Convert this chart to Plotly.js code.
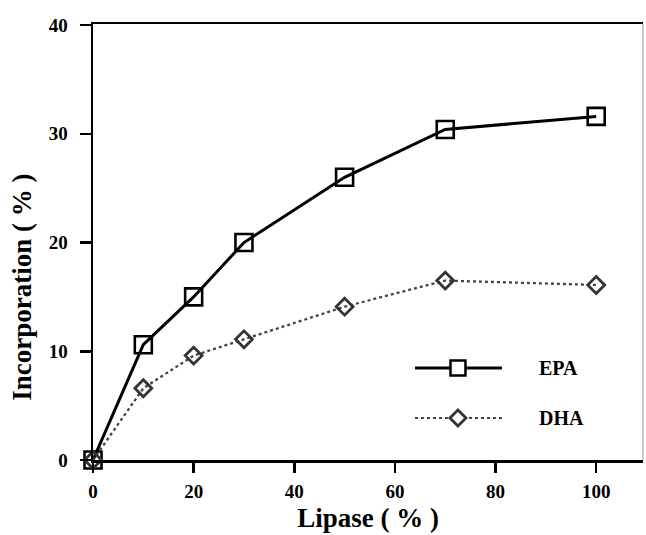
<!DOCTYPE html>
<html>
<head>
<meta charset="utf-8">
<script src="https://cdn.plot.ly/plotly-3.0.1.min.js"></script>
<style>html,body{margin:0;padding:0;background:#fff;}#chart{width:646px;height:535px;}</style>
</head>
<body>
<div id="chart"></div>
<script>
var lipase = [0, 10, 20, 30, 50, 70, 100];
var epa = [0, 10.6, 15.0, 20.0, 26.0, 30.4, 31.6];
var dha = [0, 6.6, 9.6, 11.1, 14.1, 16.5, 16.1];
var seriesNames = ["EPA", "DHA"];
var xTicks = [0, 20, 40, 60, 80, 100];
var yTicks = [0, 10, 20, 30, 40];
var xTitle = "Lipase ( % )";
var yTitle = "Incorporation ( % )";

var serif = "Liberation Serif, Times New Roman, serif";

var traces = [
  {
    x: lipase, y: epa, name: seriesNames[0], type: "scatter", mode: "lines+markers",
    line: {color: "#000", width: 3},
    marker: {symbol: "square-open", size: 17, color: "#000", line: {width: 2.6, color: "#000"}},
    cliponaxis: false
  },
  {
    x: lipase, y: dha, name: seriesNames[1], type: "scatter", mode: "lines+markers",
    line: {color: "#444", width: 2.3, dash: "dot"},
    marker: {symbol: "diamond-open", size: 13, color: "#333", line: {width: 2.8, color: "#333"}},
    cliponaxis: false
  }
];

// custom legend (drawn in paper coordinates, like the original figure's key)
var lgX0 = 0.5855, lgX1 = 0.7436, lgXm = 0.6636, lgTx = 0.8073;
var lgY = [0.211, 0.0963];
var sqHx = 0.0136, sqHy = 0.0172, dmHx = 0.0146, dmHy = 0.0184;

var shapes = [
  {type: "line", xref: "paper", yref: "paper", x0: 1, x1: 1, y0: 0, y1: 1,
   line: {color: "#999", width: 1}},
  {type: "line", xref: "paper", yref: "paper", x0: lgX0, x1: lgX1, y0: lgY[0], y1: lgY[0],
   line: {color: "#000", width: 3}},
  {type: "rect", xref: "paper", yref: "paper", x0: lgXm - sqHx, x1: lgXm + sqHx, y0: lgY[0] - sqHy, y1: lgY[0] + sqHy,
   fillcolor: "#fff", line: {color: "#000", width: 2.5}},
  {type: "line", xref: "paper", yref: "paper", x0: lgX0, x1: lgX1, y0: lgY[1], y1: lgY[1],
   line: {color: "#444", width: 2.2, dash: "dot"}},
  {type: "path", xref: "paper", yref: "paper",
   path: "M" + (lgXm - dmHx) + "," + lgY[1] + " L" + lgXm + "," + (lgY[1] + dmHy) + " L" + (lgXm + dmHx) + "," + lgY[1] + " L" + lgXm + "," + (lgY[1] - dmHy) + " Z",
   fillcolor: "#fff", line: {color: "#333", width: 2.8}}
];

var annotations = seriesNames.map(function (n, i) {
  return {text: n, xref: "paper", yref: "paper", x: lgTx, y: lgY[i], xanchor: "left", yanchor: "middle",
          showarrow: false, font: {family: serif, size: 20, color: "#000", weight: "bold"}};
});
// y-axis title (placed like in the original, slightly below the axis centre)
annotations.push({text: yTitle, xref: "paper", yref: "paper", x: -0.129, y: 0.395,
  xanchor: "center", yanchor: "middle", textangle: -90, showarrow: false,
  font: {family: serif, size: 27, color: "#000", weight: "bold"}});

var layout = {
  width: 646, height: 535,
  margin: {l: 93, r: 3, t: 24, b: 75},
  paper_bgcolor: "#fff", plot_bgcolor: "#fff",
  showlegend: false,
  xaxis: {
    range: [0, 109.3], tickvals: xTicks, ticktext: xTicks.map(String),
    showgrid: false, zeroline: false,
    showline: true, linecolor: "#000", linewidth: 2.5, mirror: true,
    ticks: "outside", ticklen: 10, tickwidth: 2.5, tickcolor: "#000",
    ticklabelstandoff: 3,
    tickfont: {family: serif, size: 19, color: "#000", weight: "bold"},
    title: {text: xTitle, font: {family: serif, size: 27, color: "#000", weight: "bold"}, standoff: 7}
  },
  yaxis: {
    range: [0, 40.1], tickvals: yTicks, ticktext: yTicks.map(String),
    showgrid: false, zeroline: false,
    showline: true, linecolor: "#000", linewidth: 2.5,
    ticks: "outside", ticklen: 11, tickwidth: 2.5, tickcolor: "#000",
    ticklabelstandoff: 8,
    tickfont: {family: serif, size: 19, color: "#000", weight: "bold"}
  },
  shapes: shapes,
  annotations: annotations
};

Plotly.newPlot("chart", traces, layout, {displayModeBar: false, staticPlot: true});
</script>
</body>
</html>
